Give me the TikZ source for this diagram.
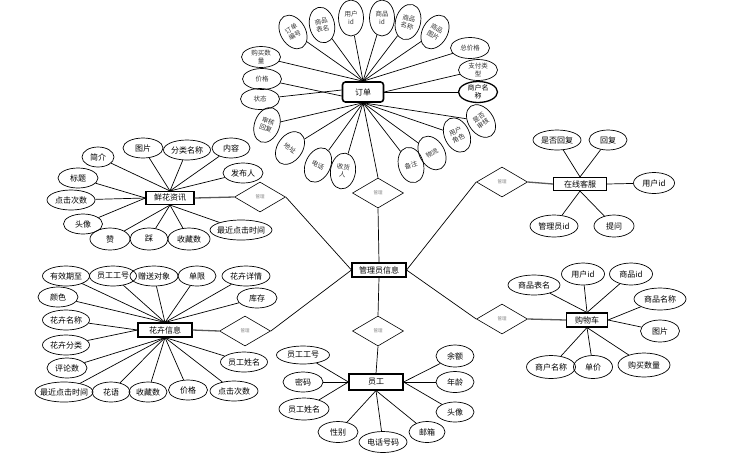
\documentclass[tikz,border=0pt]{standalone}
\usepackage{fontspec}
\setmainfont{Noto Sans CJK SC}
\usetikzlibrary{shapes.geometric}
\tikzset{
  box/.style            = { rectangle, inner sep=0pt, minimum width=54pt, minimum height=14pt },
  border/.style         = { line width=1.1pt, draw=black },
  round/.style          = { rounded corners=3pt },
}
\tikzset{
  entity/.style         = { box, border, font=\fontsize{8}{9}\selectfont },
  relation/.style       = { diamond, draw=black, line width=0.6pt, minimum width=51pt, minimum height=30pt,
                            inner sep=0pt, font=\fontsize{4.5}{5}\selectfont, text=black!50 },
  attr/.style           = { ellipse, draw=black, line width=0.7pt, minimum width=40pt, minimum height=20pt,
                            inner xsep=-4pt, inner ysep=0pt, font=\fontsize{8}{9}\selectfont },
  oattr/.style          = { ellipse, draw=black, line width=0.7pt, minimum width=25pt, minimum height=36pt,
                            inner sep=0pt, align=center, font=\fontsize{6.5}{7.5}\selectfont, text=black!80 },
  owide/.style          = { oattr, minimum width=39pt, minimum height=21pt },
  link/.style           = { line width=1.3pt, black!65 },
}

\begin{document}
\begin{tikzpicture}[x=1pt,y=-1pt,line width=0.7pt]
  \useasboundingbox (0,0) rectangle (751,459);

  \node (admin)   [entity]                                          at (379,270) {管理员信息};

  \node (order)   [entity,round,minimum width=41pt,minimum height=20pt,line width=1.6pt] at (363,92) {订单};
  \node (oRel)    [relation]                                        at (378,193) {管理};
  \node (oNo)     [oattr,rotate=30]                                 at (293,32)  {订单\\编号};
  \node (oTable)  [oattr,rotate=12]                                 at (322,25)  {商品\\表名};
  \node (oUid)    [oattr]                                           at (351,18)  {用户\\id};
  \node (oGid)    [oattr]                                           at (382,18)  {商品\\id};
  \node (oGname)  [oattr,rotate=-15]                                at (408,22)  {商品\\名称};
  \node (oGpic)   [oattr,rotate=-30]                                at (435,32)  {商品\\图片};
  \node (oTotal)  [owide]                                           at (470,48)  {总价格};
  \node (oPay)    [owide]                                           at (478,70)  {支付类\\型};
  \node (oShop)   [owide,line width=1.3pt,text=black,font=\fontsize{7}{8}\selectfont] at (478,92) {商户名\\称};
  \node (oCheck)  [oattr,rotate=35]                                 at (481,121) {是否\\审核};
  \node (oRole)   [oattr,rotate=25]                                 at (457,135) {用户\\角色};
  \node (oShip)   [oattr,rotate=30]                                 at (432,153) {物流};
  \node (oNote)   [oattr,rotate=15]                                 at (411,165) {备注};
  \node (oRecv)   [oattr,rotate=-8]                                 at (343,171) {收货\\人};
  \node (oTel)    [oattr,rotate=-25]                                at (318,165) {电话};
  \node (oAddr)   [oattr,rotate=-35]                                at (290,148) {地址};
  \node (oReply)  [oattr,rotate=-20]                                at (267,125) {审核\\回复};
  \node (oState)  [owide]                                           at (260,99)  {状态};
  \node (oPrice)  [owide]                                           at (262,79)  {价格};
  \node (oNum)    [owide]                                           at (261,57)  {购买数\\量};

  \node (news)    [entity,minimum width=48pt,minimum height=13pt]   at (170,198) {鲜花资讯};
  \node (nRel)    [relation]                                        at (260,197) {管理};
  \node (nIntro)  [attr,minimum width=32pt]                         at (98,157)  {简介};
  \node (nPic)    [attr]                                            at (143,148) {图片};
  \node (nCat)    [attr,minimum width=47pt]                         at (187,150) {分类名称};
  \node (nBody)   [attr,minimum width=38pt]                         at (231,148) {内容};
  \node (nAuthor) [attr]                                            at (243,173) {发布人};
  \node (nTitle)  [attr]                                            at (78,178)  {标题};
  \node (nClick)  [attr,minimum width=48pt]                         at (71,200)  {点击次数};
  \node (nAvatar) [attr,minimum width=39pt]                         at (83,224)  {头像};
  \node (nUp)     [attr,minimum height=22pt]                        at (110,239) {赞};
  \node (nDown)   [attr,minimum width=38pt,minimum height=22pt]     at (149,239) {踩};
  \node (nFav)    [attr,minimum width=42pt,minimum height=22pt]     at (189,239) {收藏数};
  \node (nRecent) [attr,minimum width=62pt]                         at (241,230) {最近点击时间};

  \node (flower)  [entity]                                          at (165,330) {花卉信息};
  \node (fRel)    [relation]                                        at (245,331) {管理};
  \node (fExpire) [attr,minimum width=47pt]                         at (66,276)  {有效期至};
  \node (fStaffNo)[attr,minimum width=47pt]                         at (113,276) {员工工号};
  \node (fTarget) [attr,minimum width=48pt]                         at (154,276) {赠送对象};
  \node (fLimit)  [attr,minimum width=38pt]                         at (197,276) {单限};
  \node (fDetail) [attr,minimum width=48pt]                         at (246,276) {花卉详情};
  \node (fStock)  [attr]                                            at (257,298) {库存};
  \node (fColor)  [attr]                                            at (58,297)  {颜色};
  \node (fName)   [attr,minimum width=47pt]                         at (66,320)  {花卉名称};
  \node (fType)   [attr,minimum width=47pt]                         at (66,345)  {花卉分类};
  \node (fReview) [attr]                                            at (67,368)  {评论数};
  \node (fRecent) [attr,minimum width=58pt]                         at (64,392)  {最近点击时间};
  \node (fWords)  [attr,minimum width=38pt]                         at (111,392) {花语};
  \node (fFav)    [attr,minimum width=38pt]                         at (148,392) {收藏数};
  \node (fPrice)  [attr,minimum width=39pt]                         at (188,390) {价格};
  \node (fClick)  [attr,minimum width=48pt]                         at (234,391) {点击次数};
  \node (fStaff)  [attr,minimum width=47pt]                         at (244,362) {员工姓名};

  \node (service) [entity,minimum width=53pt,minimum height=13pt]   at (580,184) {在线客服};
  \node (sRel)    [relation]                                        at (502,182) {管理};
  \node (sReplied)[attr,minimum width=48pt]                         at (557,140) {是否回复};
  \node (sReply)  [attr,minimum width=38pt]                         at (608,140) {回复};
  \node (sUid)    [attr,minimum width=41pt,minimum height=21pt]     at (654,183) {用户id};
  \node (sAdmin)  [attr,minimum width=48pt,minimum height=22pt]     at (554,226) {管理员id};
  \node (sAsk)    [attr,minimum height=22pt]                        at (614,226) {提问};

  \node (cart)    [entity,minimum width=41pt]                       at (587,320) {购物车};
  \node (cRel)    [relation]                                        at (502,319) {管理};
  \node (cTable)  [attr,minimum width=52pt]                         at (534,285) {商品表名};
  \node (cUid)    [attr,minimum width=43pt,minimum height=22pt]     at (583,274) {用户id};
  \node (cGid)    [attr,minimum width=43pt,minimum height=22pt]     at (631,274) {商品id};
  \node (cGname)  [attr,minimum width=52pt,minimum height=22pt]     at (660,299) {商品名称};
  \node (cPic)    [attr,minimum width=39pt,minimum height=22pt]     at (660,331) {图片};
  \node (cNum)    [attr,minimum width=52pt,minimum height=24pt]     at (644,365) {购买数量};
  \node (cUnit)   [attr,minimum width=39pt,minimum height=23pt]     at (593,367) {单价};
  \node (cShop)   [attr,minimum width=49pt,minimum height=23pt]     at (551,367) {商户名称};

  \node (staff)   [entity,minimum height=16pt]                      at (376,382) {员工};
  \node (eRel)    [relation]                                        at (378,331) {管理};
  \node (eNo)     [attr,minimum width=53pt,minimum height=18pt]     at (303,355) {员工工号};
  \node (ePwd)    [attr]                                            at (303,382) {密码};
  \node (eName)   [attr,minimum width=50pt,minimum height=22pt]     at (304,409) {员工姓名};
  \node (eSex)    [attr,minimum height=21pt]                        at (338,432) {性别};
  \node (eTel)    [attr,minimum width=48pt,minimum height=21pt]     at (383,442) {电话号码};
  \node (eMail)   [attr,minimum width=36pt,minimum height=21pt]     at (427,432) {邮箱};
  \node (eAvatar) [attr,minimum width=38pt]                         at (455,412) {头像};
  \node (eAge)    [attr,minimum width=38pt,minimum height=21pt]     at (455,382) {年龄};
  \node (eBal)    [attr,minimum width=38pt,minimum height=22pt]     at (455,356) {余额};

  \draw (oNo) -- (order.north);     \draw (oTable) -- (order.north);  \draw (oUid) -- (order.north);
  \draw (oGid) -- (order.north);    \draw (oGname) -- (order.north);  \draw (oGpic) -- (order.north);
  \draw (oNum) -- (order.north);    \draw (oTotal) -- (order.north);
  \draw (oPrice) -- ([yshift=-4pt]order.west);
  \draw (oState) -- ([yshift=2pt]order.west);
  \draw (oPay) -- (order.east);     \draw (oShop) -- (order.east);
  \draw (oCheck) -- (order.south);  \draw (oRole) -- (order.south);   \draw (oShip) -- (order.south);
  \draw (oNote) -- (order.south);   \draw (oRecv) -- (order.south);   \draw (oTel) -- (order.south);
  \draw (oAddr) -- (order.south);   \draw (oReply) -- (order.south);
  \draw (order.south) -- (oRel.north);
  \draw (oRel.south) -- (admin.north);

  \draw (nIntro) -- (news.north);   \draw (nPic) -- (news.north);     \draw (nCat) -- (news.north);
  \draw (nBody) -- (news.north);    \draw (nAuthor) -- (news.north);
  \draw (nTitle) -- (news.west);    \draw (nClick) -- (news.west);    \draw (nAvatar) -- (news.west);
  \draw (nUp) -- (news.south);      \draw (nDown) -- (news.south);    \draw (nFav) -- (news.south);
  \draw (nRecent) -- (news.south);
  \draw [link] (news.east) -- (nRel.west);
  \draw (nRel.east) -- (admin.west);

  \draw (fExpire) -- (flower.north);  \draw (fStaffNo) -- (flower.north); \draw (fTarget) -- (flower.north);
  \draw (fLimit) -- (flower.north);   \draw (fDetail) -- (flower.north);  \draw (fStock) -- (flower.north);
  \draw (fColor) -- (flower.north);
  \draw (fName) -- (flower.west);     \draw (fType) -- (flower.west);
  \draw (fReview) -- (flower.south);  \draw (fRecent) -- (flower.south);  \draw (fWords) -- (flower.south);
  \draw (fFav) -- (flower.south);     \draw (fPrice) -- (flower.south);   \draw (fClick) -- (flower.south);
  \draw (fStaff) -- (flower.south);
  \draw [link] (flower.east) -- (fRel.west);
  \draw (fRel.east) -- (admin.west);

  \draw (sReplied) -- (service.north); \draw (sReply) -- (service.north);
  \draw (sUid) -- (service.east);
  \draw (sAdmin) -- (service.south);   \draw (sAsk) -- (service.south);
  \draw [link] (sRel.east) -- (service.west);
  \draw (admin.east) -- (sRel.west);

  \draw (cTable) -- (cart.north);  \draw (cUid) -- (cart.north);  \draw (cGid) -- (cart.north);
  \draw (cGname) -- (cart.east);   \draw (cPic) -- (cart.east);
  \draw (cNum) -- (cart.south);    \draw (cUnit) -- (cart.south); \draw (cShop) -- (cart.south);
  \draw [link] (cRel.east) -- (cart.west);
  \draw (admin.east) -- (cRel.west);

  \draw (eNo) -- (staff.west);     \draw (ePwd) -- (staff.west);   \draw (eName) -- (staff.west);
  \draw (eSex) -- (staff.south);   \draw (eTel) -- (staff.south);  \draw (eMail) -- (staff.south);
  \draw (eAvatar) -- (staff.east); \draw (eAge) -- (staff.east);   \draw (eBal) -- (staff.east);
  \draw (admin.south) -- (eRel.north);
  \draw (eRel.south) -- (staff.north);

\end{tikzpicture}
\end{document}
